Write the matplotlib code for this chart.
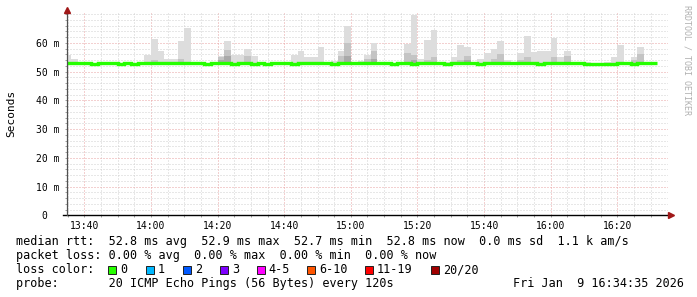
import numpy as np
import matplotlib.pyplot as plt
from matplotlib.patches import Rectangle

W, H = 697, 297
MONO = 'DejaVu Sans Mono'

# 2 minute bins, minutes since midnight (13:34 .. 16:30)
bin_start = np.arange(814, 992, 2)

median_ms = [53.0, 53.0, 52.8, 52.8, 52.6, 52.8, 52.8, 52.8, 52.6, 52.8,
             52.6, 52.8, 53.0, 52.8, 53.0, 52.8, 52.8, 52.9, 52.9, 52.9,
             52.9, 52.6, 52.9, 52.9, 52.9, 52.6, 52.9, 52.9, 52.7, 52.9,
             52.6, 52.9, 52.9, 52.9, 52.7, 52.9, 52.9, 52.9, 52.9, 52.9,
             52.7, 52.9, 53.0, 53.1, 52.9, 52.9, 53.0, 53.0, 53.0, 52.7,
             53.0, 53.0, 52.7, 53.0, 53.0, 53.0, 53.0, 52.7, 53.0, 53.0,
             53.0, 53.0, 52.7, 53.0, 53.0, 53.0, 53.0, 53.0, 53.0, 53.0,
             53.0, 52.6, 53.0, 53.0, 53.0, 53.0, 53.0, 53.0, 52.7, 52.7,
             52.7, 52.7, 52.7, 53.0, 53.0, 52.7, 53.0, 53.0, 53.0]

# outer smoke (max ping per bin), 0 = no smoke visible
smoke_max = [55.8, 54.2, 0, 0, 0, 0, 0, 0, 0, 0,
             0, 0, 55.8, 61.2, 57.3, 54.2, 54.2, 60.5, 65.1, 0,
             0, 0, 0, 55.4, 60.5, 55.8, 55.8, 57.7, 55.4, 0,
             0, 0, 0, 0, 55.8, 57.0, 55.0, 55.0, 58.5, 0,
             53.5, 57.3, 65.8, 0, 53.6, 55.8, 60.0, 0, 0, 0,
             0, 59.4, 69.5, 54.2, 60.8, 64.6, 0, 53.3, 55.0, 59.1,
             58.7, 0, 54.5, 56.4, 57.7, 60.5, 53.9, 0, 56.4, 62.5,
             56.8, 57.3, 57.0, 61.6, 55.0, 57.0, 0, 0, 53.3, 0,
             0, 53.3, 55.2, 59.1, 0, 55.2, 58.7, 0, 0]

smoke_mid = [0, 0, 0, 0, 0, 0, 0, 0, 0, 0,
             0, 0, 0, 54.0, 0, 0, 0, 54.5, 0, 0,
             0, 0, 0, 55.0, 57.5, 0, 0, 55.5, 0, 0,
             0, 0, 0, 0, 0, 0, 0, 0, 0, 0,
             0, 55.5, 60.0, 0, 0, 54.5, 57.3, 0, 0, 0,
             0, 56.4, 55.8, 0, 54.0, 55.0, 0, 0, 0, 54.0,
             55.5, 0, 0, 0, 54.5, 56.0, 0, 0, 54.0, 55.0,
             0, 0, 0, 55.0, 0, 55.5, 0, 0, 0, 0,
             0, 0, 0, 0, 0, 54.0, 56.0, 0, 0]

smoke_dark = [0] * 23 + [54.0, 55.5] + [0] * 17 + [55.5] + [0] * 3 + [54.5] + \
             [0] * 5 + [54.0] + [0] * 7 + [54.0] + [0] * 28

ticks_major = np.arange(820, 995, 20)
ytick_vals = np.arange(0, 61, 10)
ytick_labels = ['0  '] + ['%d m' % v for v in ytick_vals[1:]]

loss_labels = ['0', '1', '2', '3', '4-5', '6-10', '11-19', '20/20']
loss_colors = ['#26ff00', '#00b8ff', '#0059ff', '#7e00ff', '#ff00ff',
               '#ff5500', '#ff0000', '#a00000']
loss_box_x = [108.3, 145.7, 182.7, 219.7, 256.7, 307.3, 365.0, 430.7]

legend_lines = [
    'median rtt:  52.8 ms avg  52.9 ms max  52.7 ms min  52.8 ms now  0.0 ms sd  1.1 k am/s',
    'packet loss: 0.00 % avg  0.00 % max  0.00 % min  0.00 % now',
    'loss color:',
    'probe:       20 ICMP Echo Pings (56 Bytes) every 120s',
]
stamp = 'Fri Jan  9 16:34:35 2026'

fig = plt.figure(figsize=(W / 100, H / 100), dpi=100)
fig.patch.set_facecolor('white')
x0, x1, ytop, ybot = 67, 668, 12, 215.3
ax = fig.add_axes([x0 / W, 1 - ybot / H, (x1 - x0) / W, (ybot - ytop) / H])
ax.set_xlim(814.8, 995.2)
ax.set_ylim(0, 70.7)

med = np.array(median_ms)
base = med - 0.4
for vals, col in [(smoke_max, '#dddddd'), (smoke_mid, '#c4c4c4'), (smoke_dark, '#a9a9a9')]:
    v = np.array(vals, float)
    h = np.where(v > 0, v - base, 0)
    ax.bar(bin_start, h, width=2, bottom=base, align='edge', color=col, linewidth=0, zorder=2)

edges = np.append(bin_start, bin_start[-1] + 2)
ax.stairs(med, edges, baseline=None, color='#26ff00', linewidth=2.4, zorder=3)

# grid
ax.set_xticks(ticks_major)
ax.set_xticks(np.arange(815, 995, 5), minor=True)
ax.set_xticklabels(['%02d:%02d' % (m // 60, m % 60) for m in ticks_major])
ax.set_yticks(ytick_vals)
ax.set_yticks(np.arange(0, 71, 2), minor=True)
ax.set_yticklabels(ytick_labels)
ax.set_axisbelow(True)
ax.grid(which='minor', color='#d0d0d0', linestyle=(0, (1, 2)), linewidth=0.72)
ax.grid(which='major', color='#e9a3a3', linestyle=(0, (1, 2)), linewidth=0.72)
ax.tick_params(which='both', length=1.5, width=0.7, color='#a0a0a0', direction='out')
ax.tick_params(axis='y', pad=3.6, labelsize=7)
ax.tick_params(axis='x', pad=2.9, labelsize=7)
for lab in ax.get_xticklabels() + ax.get_yticklabels():
    lab.set_family(MONO)
    lab.set_color('#000000')

for s in ['top', 'right', 'bottom', 'left']:
    ax.spines[s].set_visible(False)
# axes with little arrows
ax.plot([-4 / 601, 1.0], [0, 0], transform=ax.transAxes, color='black', lw=1.0, clip_on=False, zorder=5)
ax.plot([0, 0], [0, 1.0], transform=ax.transAxes, color='#505050', lw=0.9, clip_on=False, zorder=5)
ax.plot([1 + 3 / 601], [0], marker='>', ms=4.5, color='#a01818', transform=ax.transAxes, clip_on=False, zorder=6)
ax.plot([0], [1 + 1.5 / 203], marker='^', ms=4.5, color='#a01818', transform=ax.transAxes, clip_on=False, zorder=6)

fig.text(11 / W, 1 - 113 / H, 'Seconds', rotation=90, ha='center', va='center',
         family=MONO, fontsize=8)
fig.text(687 / W, 1 - 60 / H, 'RRDTOOL / TOBI OETIKER', rotation=270, ha='center', va='center',
         family=MONO, fontsize=6, color='#b0b0b0')

baselines = [244.5, 258.8, 273.1, 287.4]
for txt, yb in zip(legend_lines, baselines):
    fig.text(16 / W, 1 - yb / H, txt, family=MONO, fontsize=8.5, va='baseline', ha='left')
fig.text(513 / W, 1 - baselines[3] / H, stamp, family=MONO, fontsize=8.5, va='baseline', ha='left')

for lab, col, bx in zip(loss_labels, loss_colors, loss_box_x):
    fig.patches.append(Rectangle((bx / W, 1 - 273.6 / H), 8 / W, 8 / H,
                                 transform=fig.transFigure, facecolor=col,
                                 edgecolor='#202020', linewidth=0.7))
    fig.text((bx + 12) / W, 1 - baselines[2] / H, lab, family=MONO, fontsize=8.5,
             va='baseline', ha='left')

fig.savefig('out.png', dpi=100, facecolor='white')
